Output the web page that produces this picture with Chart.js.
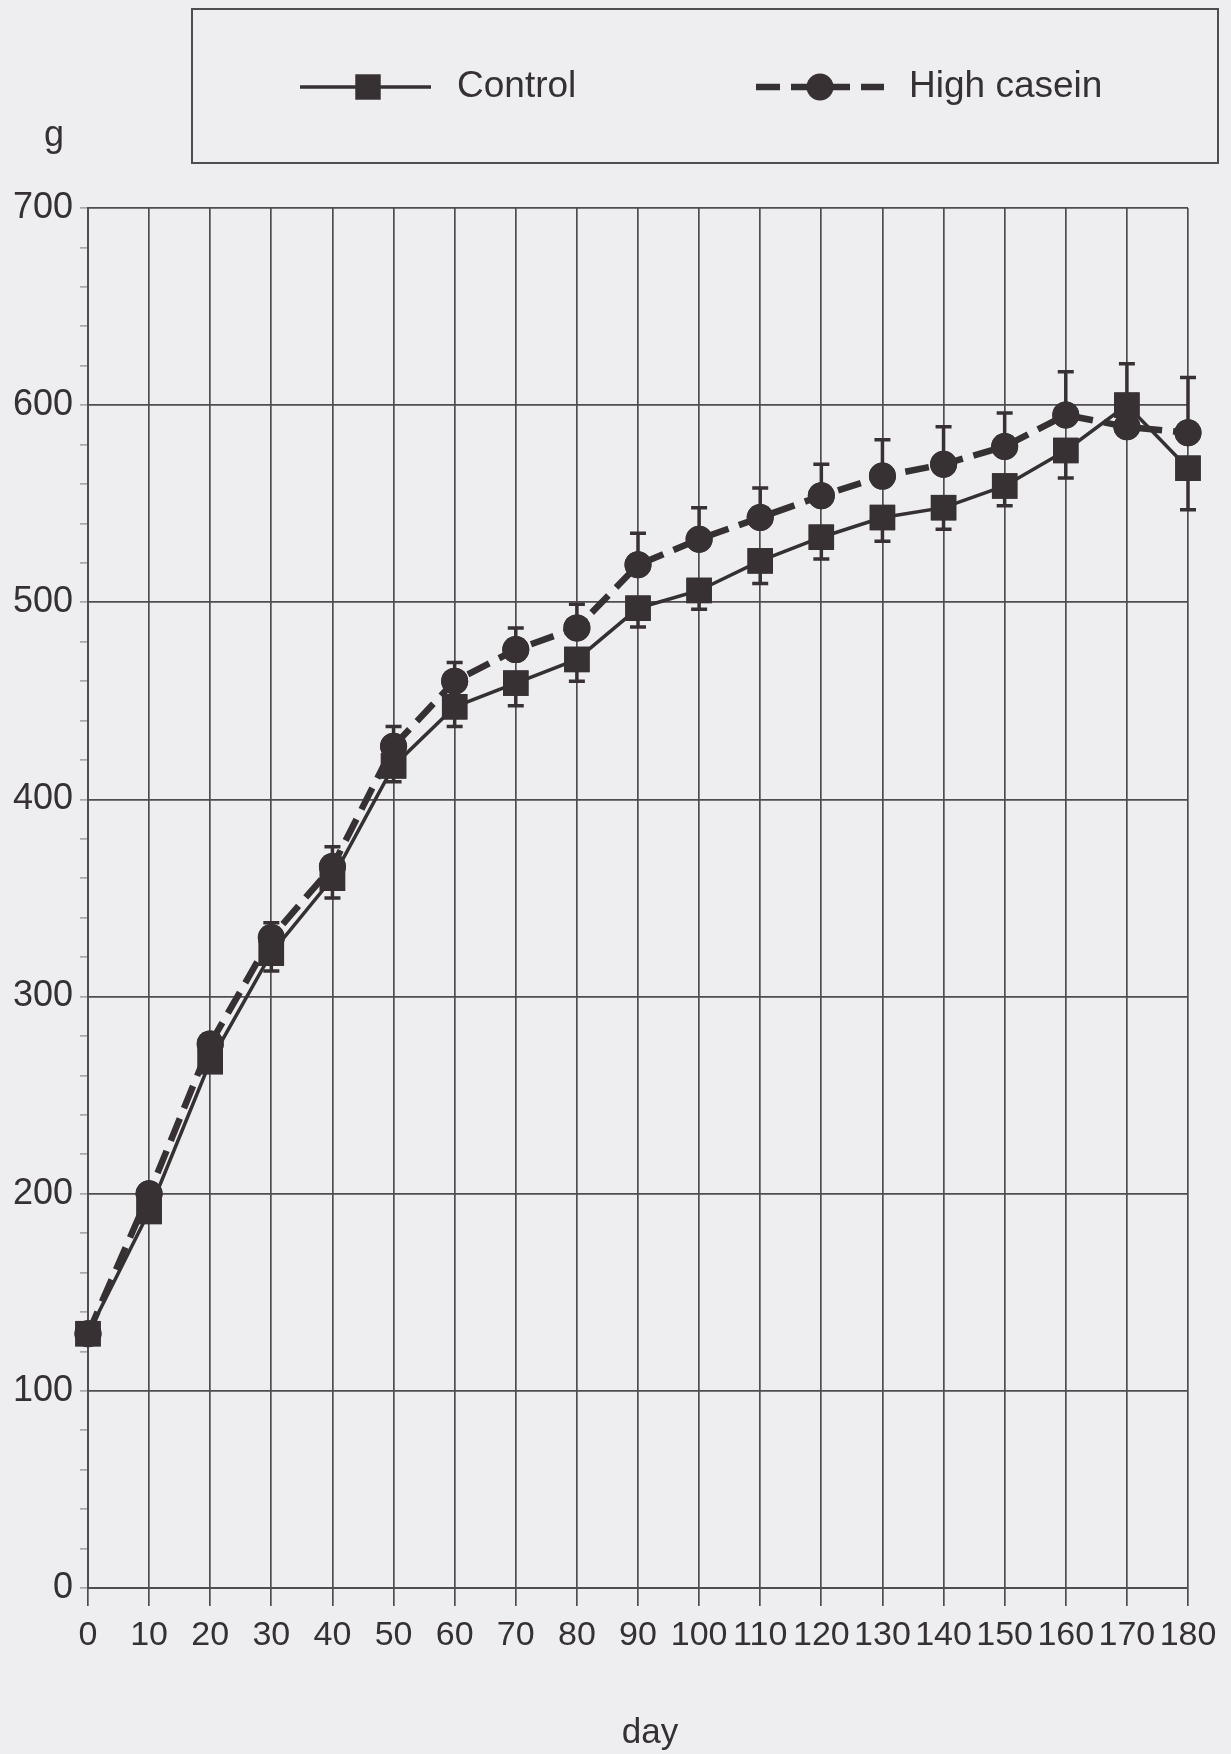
<!DOCTYPE html>
<html>
<head>
<meta charset="utf-8">
<title>Body weight: Control vs High casein</title>
<script src="https://cdn.jsdelivr.net/npm/chart.js@4.4.1/dist/chart.umd.min.js"></script>
<style>
  html, body { margin: 0; padding: 0; background: #eeedf0; }
  #wrap { width: 1231px; height: 1754px; }
</style>
</head>
<body>
<div id="wrap"><canvas id="growth" width="1231" height="1754"></canvas></div>
<script>
// Measurement days
const days = [0, 10, 20, 30, 40, 50, 60, 70, 80, 90, 100, 110, 120, 130, 140, 150, 160, 170, 180];

// Mean body weight (g) and SE per group
const controlWeight = [129, 191, 267, 322, 360, 417, 447, 459, 471, 497, 506, 521, 533, 543, 548, 559, 577, 600, 568];
const controlSE     = [3, 4, 5, 9, 10, 8, 10, 11.5, 11, 9.5, 9.5, 11.5, 11, 12, 11, 10, 14, 13, 21];

const caseinWeight  = [129, 200, 276, 330, 366, 427, 460, 476, 487, 519, 532, 543, 554, 564, 570, 579, 595, 589, 586];
const caseinSE      = [3, 4, 5, 7.5, 10, 10, 9.5, 11, 12, 16, 16, 15, 16, 18.5, 19, 17, 22, 32, 28];

// Axis ticks
const xTickValues = days;
const yTickLabels = [0, 100, 200, 300, 400, 500, 600, 700];

const seriesNames = ['Control', 'High casein'];

const INK = '#353133';
const MARK = '#383133';
const GRID = '#4f4d50';
const PAPER = '#eeedf0';
const FONT = '"Liberation Sans", Arial, Helvetica, sans-serif';

const toPoints = vals => days.map((d, i) => ({ x: d, y: vals[i] }));

// Paper-coloured background behind everything
const paper = {
  id: 'paper',
  beforeDraw(chart) {
    const c = chart.ctx;
    c.save();
    c.fillStyle = PAPER;
    c.fillRect(0, 0, chart.width, chart.height);
    c.restore();
  }
};

// One-sided SE bars: up for High casein, down for Control
const errorBars = {
  id: 'errorBars',
  afterDatasetsDraw(chart) {
    const { ctx, scales: { x, y } } = chart;
    chart.data.datasets.forEach((ds, i) => {
      if (!chart.isDatasetVisible(i)) return;
      ctx.save();
      ctx.strokeStyle = MARK;
      ctx.lineWidth = 3.5;
      ds.data.forEach((pt, j) => {
        const se = ds.errors[j];
        const px = x.getPixelForValue(pt.x);
        const y0 = y.getPixelForValue(pt.y);
        const y1 = y.getPixelForValue(pt.y + ds.errorDirection * se);
        ctx.beginPath();
        ctx.moveTo(px, y0);
        ctx.lineTo(px, y1);
        ctx.moveTo(px - 8, y1);
        ctx.lineTo(px + 8, y1);
        ctx.stroke();
      });
      ctx.restore();
    });
    // markers go back on top of the bars
    chart.data.datasets.forEach((ds, i) => {
      const meta = chart.getDatasetMeta(i);
      meta.data.forEach(el => el.draw(ctx, chart.chartArea));
    });
  }
};

// Framed legend with line + marker samples, plus the "g" and "day" captions
const captions = {
  id: 'captions',
  afterDraw(chart) {
    const c = chart.ctx;
    const ds = chart.data.datasets;
    c.save();
    // legend frame
    c.strokeStyle = GRID;
    c.lineWidth = 2;
    c.strokeRect(192, 9, 1026, 154);

    const rowY = 87;
    // Control sample
    const ctl = ds[1];
    c.strokeStyle = ctl.borderColor;
    c.lineWidth = ctl.borderWidth;
    c.setLineDash([]);
    c.beginPath(); c.moveTo(300, rowY); c.lineTo(431, rowY); c.stroke();
    c.fillStyle = MARK;
    Chart.helpers.drawPoint(c, { pointStyle: ctl.pointStyle, radius: ctl.pointRadius, borderWidth: 0 }, 368, rowY);

    // High casein sample
    const hc = ds[0];
    c.strokeStyle = hc.borderColor;
    c.lineWidth = hc.borderWidth;
    c.setLineDash(hc.borderDash);
    c.beginPath(); c.moveTo(756, rowY); c.lineTo(884, rowY); c.stroke();
    c.setLineDash([]);
    c.fillStyle = MARK;
    c.beginPath(); c.arc(820, rowY, hc.pointRadius, 0, Math.PI * 2); c.fill();

    c.fillStyle = INK;
    c.font = '37px ' + FONT;
    c.textAlign = 'left';
    c.textBaseline = 'middle';
    c.fillText(seriesNames[0], 457, rowY);
    c.fillText(seriesNames[1], 909, rowY);

    // axis captions
    c.font = '36px ' + FONT;
    c.textAlign = 'center';
    c.textBaseline = 'alphabetic';
    c.fillText('g', 54, 146);
    c.font = '35px ' + FONT;
    c.fillText('day', 650, 1743);
    c.restore();
  }
};

new Chart(document.getElementById('growth'), {
  type: 'line',
  data: {
    datasets: [
      {
        label: seriesNames[1],
        data: toPoints(caseinWeight),
        errors: caseinSE,
        errorDirection: 1,
        borderColor: INK,
        borderWidth: 6.5,
        borderDash: [24, 11],
        pointStyle: 'circle',
        pointRadius: 13.5,
        pointBackgroundColor: MARK,
        pointBorderColor: MARK,
        pointBorderWidth: 0,
        tension: 0,
        clip: false
      },
      {
        label: seriesNames[0],
        data: toPoints(controlWeight),
        errors: controlSE,
        errorDirection: -1,
        borderColor: INK,
        borderWidth: 3.5,
        pointStyle: 'rect',
        pointRadius: 18,
        pointBackgroundColor: MARK,
        pointBorderColor: MARK,
        pointBorderWidth: 0,
        tension: 0,
        clip: false
      }
    ]
  },
  options: {
    responsive: false,
    devicePixelRatio: 1,
    animation: false,
    layout: { padding: { top: 208, right: 43, left: 0, bottom: 0 } },
    plugins: {
      legend: { display: false },
      tooltip: { enabled: false }
    },
    scales: {
      x: {
        type: 'linear',
        min: 0,
        max: 180,
        afterFit: s => { s.height = 166; },
        afterBuildTicks: s => { s.ticks = xTickValues.map(v => ({ value: v })); },
        ticks: {
          autoSkip: false,
          maxRotation: 0,
          padding: 9,
          color: INK,
          font: { family: FONT, size: 34 }
        },
        grid: {
          color: GRID,
          lineWidth: 1.7,
          drawTicks: true,
          tickLength: 18,
          tickColor: GRID
        },
        border: { display: true, color: GRID, width: 2 }
      },
      y: {
        type: 'linear',
        min: 0,
        max: 700,
        afterFit: s => { s.width = 88; },
        ticks: {
          stepSize: 20,
          autoSkip: false,
          padding: 7,
          color: INK,
          font: { family: FONT, size: 36 },
          callback: v => (yTickLabels.includes(v) ? String(v) : '')
        },
        grid: {
          color: ctx => (ctx.tick && yTickLabels.includes(ctx.tick.value) ? GRID : 'rgba(0,0,0,0)'),
          lineWidth: 1.7,
          drawTicks: true,
          tickLength: 8,
          tickColor: '#a9a7aa'
        },
        border: { display: true, color: GRID, width: 2 }
      }
    }
  },
  plugins: [paper, errorBars, captions]
});
</script>
</body>
</html>
